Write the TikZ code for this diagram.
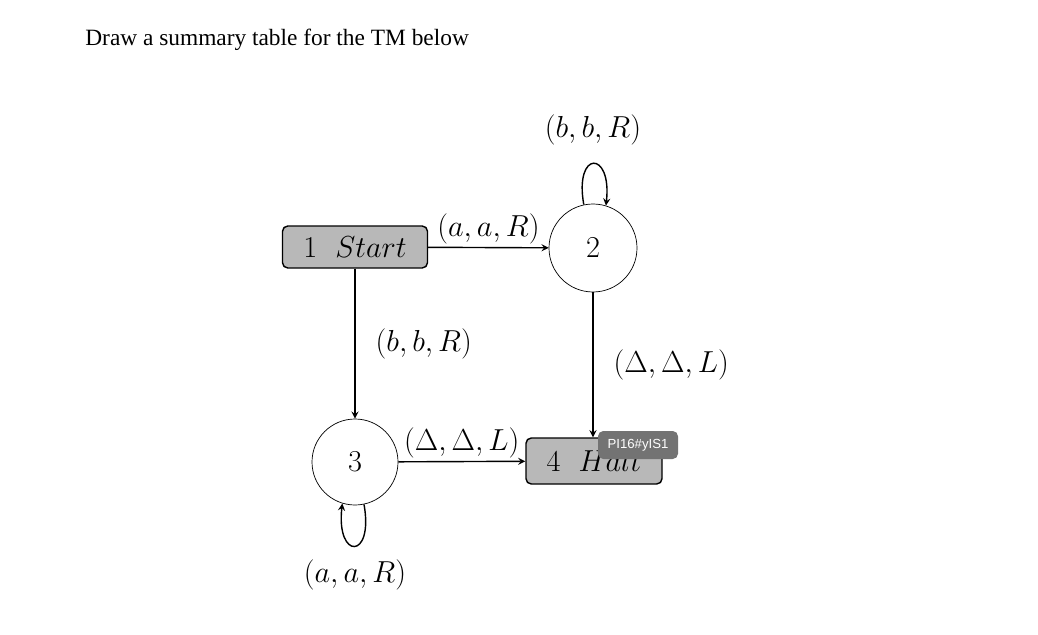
\documentclass[tikz,border=0pt]{standalone}
\usepackage{fontspec}
\newfontfamily\timesfont{Liberation Serif}
\newfontfamily\tipfont{Liberation Sans}
\begin{document}
\begin{tikzpicture}[x=0.02cm,y=-0.02cm,
  lbl/.style={font=\fontsize{17}{20}\selectfont},
  boxst/.style={draw,thick,rounded corners=3pt,fill=black!28,minimum width=145*0.02cm,minimum height=42*0.02cm,inner sep=0pt,font=\fontsize{17}{20}\selectfont},
  circst/.style={draw,thin,circle,inner sep=0pt,font=\fontsize{17}{20}\selectfont},
  edge/.style={->,thick,>=stealth}]
\useasboundingbox (0,0) rectangle (1038,635);
\node[anchor=west,inner sep=0pt,font=\timesfont\fontsize{13.3}{16}\selectfont] (title) at (85,40) {Draw a summary table for the TM below};
\node[boxst] (s1) at (355,247) {$1\ \ Start$};
\node[circst,minimum size=88*0.02cm] (s2) at (593,248) {$2$};
\node[circst,minimum size=86*0.02cm] (s3) at (355,462) {$3$};
\node[boxst,minimum width=136*0.02cm,minimum height=46*0.02cm] (s4) at (594,461) {$4\ \ Halt$};
\draw[edge] (s1) -- (s2) node[lbl,midway,above=-2pt] {$(a,a,R)$};
\draw[edge] (s1) -- (s3) node[lbl,pos=0.5,right=8pt] {$(b,b,R)$};
\draw[edge] (s2.south) -- (s4.north-|s2.south) node[lbl,pos=0.5,right=8pt] {$(\Delta,\Delta,L)$};
\draw[edge] (s3) -- (s4) node[lbl,midway,above=-2pt] {$(\Delta,\Delta,L)$};
\draw[edge] (s2.102) .. controls (574,150) and (612,150) .. (s2.73) node[lbl,at={(593,130)}] {$(b,b,R)$};
\draw[edge] (s3.-78) .. controls (374,560) and (336,560) .. (s3.-107) node[lbl,at={(355,575)}] {$(a,a,R)$};
\node[fill=black!55,rounded corners=3pt,minimum width=80*0.02cm,minimum height=28*0.02cm,inner sep=0pt,text=white,font=\tipfont\fontsize{7.5}{9}\selectfont] (tip) at (638,445) {PI16\#yIS1};
\end{tikzpicture}
\end{document}
